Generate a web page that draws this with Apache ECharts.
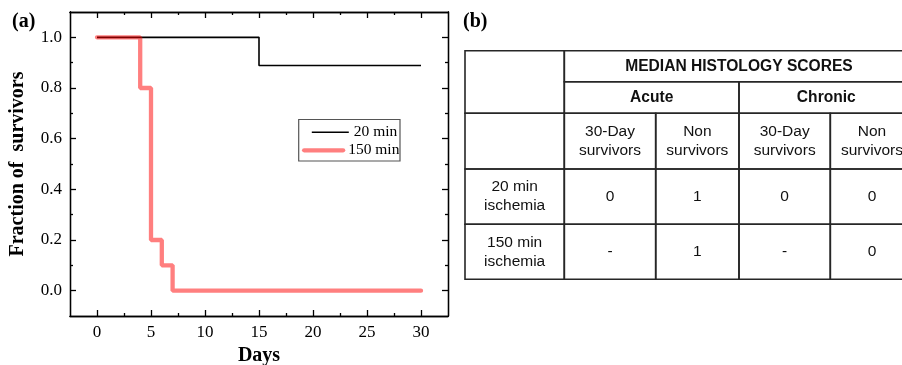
<!DOCTYPE html>
<html>
<head>
<meta charset="utf-8">
<script src="https://cdn.jsdelivr.net/npm/echarts@6/dist/echarts.min.js"></script>
<style>html,body{margin:0;padding:0;background:#fff;}#c{width:902px;height:365px;}</style>
</head>
<body>
<div id="c"></div>
<script>
// ---- data: survival curves (panel a) ----
const days20 = [0, 15, 30];
const surv20 = [1, 0.889, 0.889];
const days150 = [0, 4, 5, 6, 7, 30];
const surv150 = [1, 0.8, 0.2, 0.1, 0, 0];
const seriesNames = ['20 min', '150 min'];
const xTickValues = [0, 5, 10, 15, 20, 25, 30];
const xMinorTickValues = [2.5, 7.5, 12.5, 17.5, 22.5, 27.5];
const yTickValues = [0, 0.2, 0.4, 0.6, 0.8, 1.0];
const yMinorTickValues = [0.1, 0.3, 0.5, 0.7, 0.9];

// ---- data: histology table (panel b) ----
const tableTitle = 'MEDIAN HISTOLOGY SCORES';
const phases = ['Acute', 'Chronic'];
const outcomes = ['30-Day\nsurvivors', 'Non\nsurvivors'];
const groups = ['20 min\nischemia', '150 min\nischemia'];
const scores20 = ['0', '1', '0', '0'];
const scores150 = ['-', '1', '-', '0'];

// ---- layout (sizes, not data) ----
const colWidths = [99.3, 91.4, 83.3, 91.3, 83.3];
const rowHeights = [31, 31.6, 55.7, 55.3, 55];
const colEdges = [0]; colWidths.forEach(w => colEdges.push(colEdges[colEdges.length - 1] + w));
const rowEdges = [0]; rowHeights.forEach(h => rowEdges.push(rowEdges[rowEdges.length - 1] + h));

const cells = [];
function addCell(c0, c1, r0, r1, text, bold) {
  cells.push({ x0: colEdges[c0], x1: colEdges[c1], y0: rowEdges[r0], y1: rowEdges[r1], text: text, bold: bold });
}
addCell(0, 1, 0, 2, '', false);
addCell(1, 5, 0, 1, tableTitle, true);
phases.forEach((p, i) => addCell(1 + 2 * i, 3 + 2 * i, 1, 2, p, true));
addCell(0, 1, 2, 3, '', false);
for (let i = 0; i < 4; i++) addCell(1 + i, 2 + i, 2, 3, outcomes[i % 2], false);
[scores20, scores150].forEach((row, r) => {
  addCell(0, 1, 3 + r, 4 + r, groups[r], false);
  row.forEach((v, i) => addCell(1 + i, 2 + i, 3 + r, 4 + r, v, false));
});

const serif = 'Liberation Serif';
const sans = 'Liberation Sans';
const black = '#000';

function xAx(position, ticks, len, labels, extra) {
  return Object.assign({
    type: 'value', gridIndex: 0, min: -2.5, max: 32.5, position: position,
    axisLine: { show: true, onZero: false, lineStyle: { color: black, width: 1.3 } },
    axisTick: { show: true, inside: true, length: len, customValues: ticks, lineStyle: { color: black, width: 1.3 } },
    axisLabel: labels ? { show: true, customValues: ticks, margin: 8, color: black, fontFamily: serif, fontSize: 17 } : { show: false },
    splitLine: { show: false }
  }, extra || {});
}
function yAx(position, ticks, len, labels, extra) {
  return Object.assign({
    type: 'value', gridIndex: 0, min: -0.1, max: 1.1, position: position,
    axisLine: { show: true, onZero: false, lineStyle: { color: black, width: 1.3 } },
    axisTick: { show: true, inside: true, length: len, customValues: ticks, lineStyle: { color: black, width: 1.3 } },
    axisLabel: labels ? { show: true, customValues: ticks, margin: 8, color: black, fontFamily: serif, fontSize: 17, formatter: v => v.toFixed(1) } : { show: false },
    splitLine: { show: false }
  }, extra || {});
}

const chart = echarts.init(document.getElementById('c'), null, { renderer: 'canvas' });
chart.setOption({
  animation: false,
  backgroundColor: '#fff',
  title: [
    { text: '(a)', left: 12, top: 12, padding: 0, textStyle: { fontFamily: serif, fontWeight: 'bold', fontSize: 20, color: black } },
    { text: '(b)', left: 463, top: 12, padding: 0, textStyle: { fontFamily: serif, fontWeight: 'bold', fontSize: 20, color: black } }
  ],
  grid: [
    { left: 70, top: 12, right: 454, bottom: 49, containLabel: false, outerBoundsMode: 'none' },
    { left: 465, top: 50.7, width: colEdges[colEdges.length - 1], height: rowEdges[rowEdges.length - 1], containLabel: false, outerBoundsMode: 'none' }
  ],
  xAxis: [
    xAx('bottom', xTickValues, 6, true, { name: 'Days', nameLocation: 'middle', nameGap: 27, nameTextStyle: { fontFamily: serif, fontWeight: 'bold', fontSize: 20, color: black } }),
    xAx('bottom', xMinorTickValues, 3, false),
    xAx('top', xTickValues, 6, false),
    xAx('top', xMinorTickValues, 3, false),
    { type: 'value', gridIndex: 1, min: 0, max: colEdges[colEdges.length - 1], show: false }
  ],
  yAxis: [
    yAx('left', yTickValues, 6, true, { name: 'Fraction of  survivors', nameLocation: 'middle', nameGap: 42, nameTextStyle: { fontFamily: serif, fontWeight: 'bold', fontSize: 20, color: black } }),
    yAx('left', yMinorTickValues, 3, false),
    yAx('right', yTickValues, 6, false),
    yAx('right', yMinorTickValues, 3, false),
    { type: 'value', gridIndex: 1, min: 0, max: rowEdges[rowEdges.length - 1], inverse: true, show: false }
  ],
  legend: [
    { data: [seriesNames[0]], left: 311, top: 124.3, padding: 0, itemWidth: 37, itemHeight: 16, selectedMode: false,
      itemStyle: { opacity: 0 }, lineStyle: { width: 1.6, color: '#000' },
      textStyle: { fontFamily: serif, fontSize: 15.5, color: black } },
    { data: [seriesNames[1]], left: 302, top: 142.3, padding: 0, itemWidth: 39, itemHeight: 16, selectedMode: false,
      itemStyle: { opacity: 0 }, lineStyle: { width: 4.3, color: 'rgba(255,0,0,0.5)' },
      textStyle: { fontFamily: serif, fontSize: 15.5, color: black } }
  ],
  graphic: [
    { type: 'rect', shape: { x: 298.7, y: 119.5, width: 101.3, height: 41.5 }, style: { fill: 'none', stroke: '#555', lineWidth: 1.2 }, z: 10 }
  ],
  series: [
    { name: seriesNames[0], type: 'line', xAxisIndex: 0, yAxisIndex: 0, step: 'end', symbol: 'none', showSymbol: false,
      data: days20.map((d, i) => [d, surv20[i]]), lineStyle: { color: '#000', width: 1.6 }, itemStyle: { color: '#000' }, z: 2 },
    { name: seriesNames[1], type: 'line', xAxisIndex: 0, yAxisIndex: 0, step: 'end', symbol: 'none', showSymbol: false,
      data: days150.map((d, i) => [d, surv150[i]]), lineStyle: { color: 'rgba(255,0,0,0.5)', width: 4.3, cap: 'round' }, itemStyle: { color: 'rgba(255,0,0,0.5)' }, z: 3 },
    { type: 'custom', xAxisIndex: 4, yAxisIndex: 4, clip: false, silent: true,
      encode: { x: [0, 1], y: [2, 3] },
      data: cells.map((c, i) => [c.x0, c.x1, c.y0, c.y1, i]),
      renderItem: function (params, api) {
        const cell = cells[api.value(4)];
        const p0 = api.coord([api.value(0), api.value(2)]);
        const p1 = api.coord([api.value(1), api.value(3)]);
        return {
          type: 'group',
          children: [
            { type: 'rect', shape: { x: p0[0], y: p0[1], width: p1[0] - p0[0], height: p1[1] - p0[1] },
              style: { fill: 'none', stroke: '#262626', lineWidth: 1.6 } },
            { type: 'text', x: (p0[0] + p1[0]) / 2, y: (p0[1] + p1[1]) / 2,
              style: { text: cell.text, align: 'center', verticalAlign: 'middle', lineHeight: 19, fill: '#111',
                font: (cell.bold ? 'bold 15.6px ' : '15.5px ') + sans } }
          ]
        };
      }
    }
  ]
});
</script>
</body>
</html>
